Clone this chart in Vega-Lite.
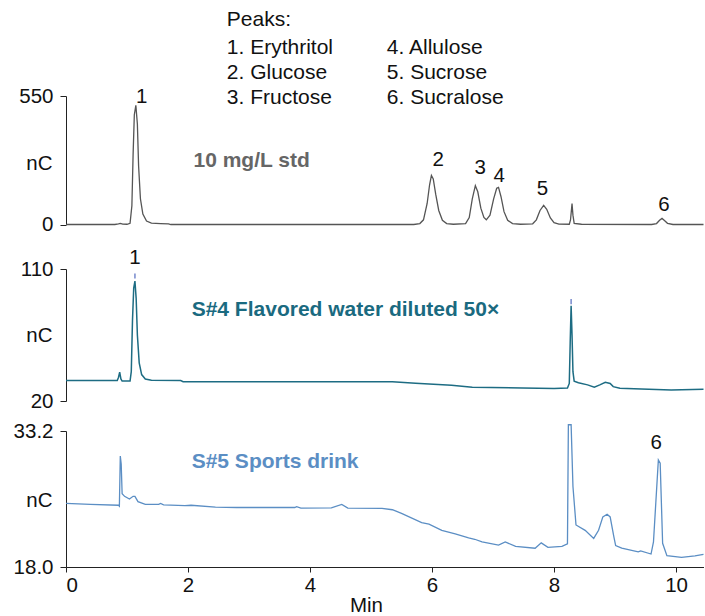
{
  "$schema": "https://vega.github.io/schema/vega-lite/v6.json",
  "padding": {"left": 13, "top": 9, "right": 0, "bottom": 0},
  "autosize": {"type": "pad"},
  "config": {
    "view": {"stroke": null},
    "font": "Liberation Sans",
    "axis": {
      "grid": false,
      "domainColor": "#222",
      "tickColor": "#222",
      "tickSize": 6,
      "labelPadding": 7,
      "labelFontSize": 20.5,
      "labelColor": "#111",
      "titleFontSize": 20.5,
      "titleFontWeight": "normal",
      "titleColor": "#111"
    }
  },
  "datasets": {
    "std": [
      {"t": 0, "v": 0}, {"t": 0.8, "v": 0}, {"t": 0.86, "v": 3}, {"t": 0.89, "v": 5}, {"t": 0.93, "v": 2},
      {"t": 1.0, "v": 1}, {"t": 1.05, "v": 5}, {"t": 1.08, "v": 80}, {"t": 1.1, "v": 300}, {"t": 1.12, "v": 470},
      {"t": 1.145, "v": 510}, {"t": 1.17, "v": 430}, {"t": 1.19, "v": 250}, {"t": 1.22, "v": 110}, {"t": 1.26, "v": 45},
      {"t": 1.32, "v": 15}, {"t": 1.4, "v": 6}, {"t": 1.55, "v": 4}, {"t": 1.68, "v": 3}, {"t": 1.72, "v": 0},
      {"t": 5.7, "v": 0}, {"t": 5.8, "v": 4}, {"t": 5.86, "v": 20}, {"t": 5.92, "v": 90}, {"t": 5.96, "v": 170},
      {"t": 5.99, "v": 210}, {"t": 6.02, "v": 195}, {"t": 6.06, "v": 130}, {"t": 6.11, "v": 60}, {"t": 6.17, "v": 18},
      {"t": 6.24, "v": 4}, {"t": 6.35, "v": 1}, {"t": 6.55, "v": 4}, {"t": 6.61, "v": 30}, {"t": 6.66, "v": 110},
      {"t": 6.71, "v": 166}, {"t": 6.75, "v": 140}, {"t": 6.8, "v": 70}, {"t": 6.85, "v": 30}, {"t": 6.89, "v": 20},
      {"t": 6.95, "v": 40}, {"t": 7.01, "v": 110}, {"t": 7.06, "v": 155}, {"t": 7.09, "v": 159}, {"t": 7.13, "v": 120},
      {"t": 7.18, "v": 55}, {"t": 7.24, "v": 18}, {"t": 7.32, "v": 4}, {"t": 7.45, "v": 1}, {"t": 7.65, "v": 3},
      {"t": 7.71, "v": 20}, {"t": 7.77, "v": 60}, {"t": 7.83, "v": 82}, {"t": 7.88, "v": 65}, {"t": 7.94, "v": 28},
      {"t": 8.0, "v": 8}, {"t": 8.08, "v": 2}, {"t": 8.25, "v": 1}, {"t": 8.27, "v": 20}, {"t": 8.295, "v": 90},
      {"t": 8.31, "v": 40}, {"t": 8.33, "v": 5}, {"t": 8.45, "v": 1}, {"t": 9.6, "v": 0}, {"t": 9.68, "v": 4},
      {"t": 9.73, "v": 18}, {"t": 9.77, "v": 26}, {"t": 9.81, "v": 17}, {"t": 9.86, "v": 5}, {"t": 9.95, "v": 0},
      {"t": 10.45, "v": 0}
    ],
    "s4": [
      {"t": 0, "v": 33.9}, {"t": 0.84, "v": 33.9}, {"t": 0.86, "v": 36}, {"t": 0.88, "v": 39.6}, {"t": 0.9, "v": 35},
      {"t": 0.92, "v": 33.6}, {"t": 1.05, "v": 33.6}, {"t": 1.07, "v": 40}, {"t": 1.09, "v": 75}, {"t": 1.11, "v": 97},
      {"t": 1.13, "v": 101.7}, {"t": 1.15, "v": 90}, {"t": 1.17, "v": 65}, {"t": 1.2, "v": 46}, {"t": 1.24, "v": 38},
      {"t": 1.3, "v": 35}, {"t": 1.4, "v": 34.2}, {"t": 1.88, "v": 34.0}, {"t": 1.92, "v": 33.2}, {"t": 5.35, "v": 33.2},
      {"t": 5.73, "v": 32.1}, {"t": 6.32, "v": 30.7}, {"t": 6.66, "v": 29.4}, {"t": 7.48, "v": 28.9}, {"t": 8.0, "v": 28.6},
      {"t": 8.22, "v": 28.8}, {"t": 8.25, "v": 32}, {"t": 8.265, "v": 60}, {"t": 8.28, "v": 85}, {"t": 8.295, "v": 65},
      {"t": 8.31, "v": 40}, {"t": 8.33, "v": 33.5}, {"t": 8.4, "v": 32.5}, {"t": 8.55, "v": 31}, {"t": 8.66, "v": 29.4},
      {"t": 8.75, "v": 31}, {"t": 8.84, "v": 32.8}, {"t": 8.92, "v": 32}, {"t": 8.97, "v": 29.8}, {"t": 9.08, "v": 28.7},
      {"t": 9.43, "v": 28.2}, {"t": 9.92, "v": 27.5}, {"t": 10.45, "v": 28.0}
    ],
    "s5": [
      {"t": 0, "v": 25.1}, {"t": 0.4, "v": 25.0}, {"t": 0.86, "v": 24.9}, {"t": 0.875, "v": 24.8}, {"t": 0.89, "v": 30.4},
      {"t": 0.905, "v": 29.5}, {"t": 0.92, "v": 26.2}, {"t": 0.96, "v": 25.9}, {"t": 1.04, "v": 25.6}, {"t": 1.1, "v": 25.9},
      {"t": 1.13, "v": 25.9}, {"t": 1.18, "v": 25.3}, {"t": 1.3, "v": 25.0}, {"t": 1.52, "v": 25.0}, {"t": 1.55, "v": 25.1},
      {"t": 1.6, "v": 24.95}, {"t": 1.95, "v": 24.85}, {"t": 2.05, "v": 24.9}, {"t": 2.45, "v": 24.7}, {"t": 2.8, "v": 24.65},
      {"t": 3.75, "v": 24.65}, {"t": 3.78, "v": 24.75}, {"t": 3.85, "v": 24.58}, {"t": 4.35, "v": 24.6}, {"t": 4.52, "v": 25.0},
      {"t": 4.62, "v": 24.58}, {"t": 5.18, "v": 24.55}, {"t": 5.35, "v": 24.4}, {"t": 5.5, "v": 24.0}, {"t": 5.83, "v": 22.95},
      {"t": 5.95, "v": 22.8}, {"t": 6.16, "v": 22.1}, {"t": 6.38, "v": 21.7}, {"t": 6.6, "v": 21.25}, {"t": 6.7, "v": 21.1},
      {"t": 6.82, "v": 20.8}, {"t": 7.09, "v": 20.45}, {"t": 7.2, "v": 20.8}, {"t": 7.37, "v": 20.3}, {"t": 7.69, "v": 20.1},
      {"t": 7.79, "v": 20.7}, {"t": 7.9, "v": 20.2}, {"t": 8.13, "v": 20.3}, {"t": 8.22, "v": 20.6}, {"t": 8.235, "v": 33.9},
      {"t": 8.28, "v": 33.9}, {"t": 8.31, "v": 27}, {"t": 8.36, "v": 22.7}, {"t": 8.51, "v": 22.1}, {"t": 8.65, "v": 21.2},
      {"t": 8.73, "v": 22.1}, {"t": 8.8, "v": 23.6}, {"t": 8.87, "v": 23.9}, {"t": 8.92, "v": 23.6}, {"t": 8.98, "v": 21.4},
      {"t": 9.01, "v": 20.4}, {"t": 9.11, "v": 20.1}, {"t": 9.38, "v": 19.7}, {"t": 9.42, "v": 19.8}, {"t": 9.59, "v": 19.45},
      {"t": 9.63, "v": 20.8}, {"t": 9.71, "v": 29.96}, {"t": 9.74, "v": 29.6}, {"t": 9.78, "v": 20.65}, {"t": 9.85, "v": 19.27},
      {"t": 10.09, "v": 19.08}, {"t": 10.31, "v": 19.25}, {"t": 10.45, "v": 19.4}
    ]
  },
  "bounds": "flush",
  "spacing": 44,
  "vconcat": [
    {
      "width": 637.5,
      "height": 128.5,
      "layer": [
        {
          "data": {"name": "std"},
          "mark": {"type": "line", "color": "#555555", "strokeWidth": 1.3, "clip": false},
          "encoding": {
            "x": {"field": "t", "type": "quantitative", "scale": {"domain": [0, 10.45], "nice": false, "zero": false}, "axis": null},
            "y": {"field": "v", "type": "quantitative", "scale": {"domain": [0, 550], "nice": false},
              "axis": {"values": [0, 550], "title": "nC", "titleAngle": 0, "titleAlign": "right", "titleBaseline": "middle", "titleX": -14, "titleY": 67}}
          }
        },
        {
          "data": {"values": [
            {"t": 1.24, "v": 546, "s": "1"}, {"t": 6.1, "v": 277, "s": "2"}, {"t": 6.79, "v": 243, "s": "3"},
            {"t": 7.1, "v": 206, "s": "4"}, {"t": 7.81, "v": 153, "s": "5"}, {"t": 9.8, "v": 85, "s": "6"}
          ]},
          "mark": {"type": "text", "fontSize": 20.5, "color": "#111", "baseline": "middle", "align": "center"},
          "encoding": {
            "x": {"field": "t", "type": "quantitative"},
            "y": {"field": "v", "type": "quantitative"},
            "text": {"field": "s"}
          }
        },
        {
          "data": {"values": [
            {"t": 2.636, "v": 874, "s": "Peaks:"},
            {"t": 2.636, "v": 757, "s": "1. Erythritol"},
            {"t": 2.636, "v": 649, "s": "2. Glucose"},
            {"t": 2.636, "v": 540, "s": "3. Fructose"},
            {"t": 5.259, "v": 757, "s": "4. Allulose"},
            {"t": 5.259, "v": 649, "s": "5. Sucrose"},
            {"t": 5.259, "v": 540, "s": "6. Sucralose"}
          ]},
          "mark": {"type": "text", "fontSize": 21, "color": "#111", "baseline": "middle", "align": "left"},
          "encoding": {
            "x": {"field": "t", "type": "quantitative"},
            "y": {"field": "v", "type": "quantitative"},
            "text": {"field": "s"}
          }
        },
        {
          "data": {"values": [{"t": 2.09, "v": 271, "s": "10 mg/L std"}]},
          "mark": {"type": "text", "fontSize": 21, "fontWeight": "bold", "color": "#666666", "baseline": "middle", "align": "left"},
          "encoding": {
            "x": {"field": "t", "type": "quantitative"},
            "y": {"field": "v", "type": "quantitative"},
            "text": {"field": "s"}
          }
        }
      ]
    },
    {
      "bounds": "flush",
      "spacing": 30,
      "vconcat": [
        {
          "width": 637.5,
          "height": 132,
          "layer": [
            {
              "data": {"name": "s4"},
              "mark": {"type": "line", "color": "#1d6c83", "strokeWidth": 1.5, "clip": false},
              "encoding": {
                "x": {"field": "t", "type": "quantitative", "scale": {"domain": [0, 10.45], "nice": false, "zero": false}, "axis": null},
                "y": {"field": "v", "type": "quantitative", "scale": {"domain": [20, 110], "nice": false, "zero": false},
                  "axis": {"values": [20, 110], "title": "nC", "titleAngle": 0, "titleAlign": "right", "titleBaseline": "middle", "titleX": -14, "titleY": 66}}
              }
            },
            {
              "data": {"values": [{"t": 1.13, "v": 103.5, "v2": 107}, {"t": 8.28, "v": 86, "v2": 89.5}]},
              "mark": {"type": "rule", "color": "#7588cc", "strokeWidth": 1.5},
              "encoding": {
                "x": {"field": "t", "type": "quantitative"},
                "y": {"field": "v", "type": "quantitative"},
                "y2": {"field": "v2"}
              }
            },
            {
              "data": {"values": [{"t": 1.13, "v": 117.7, "s": "1"}]},
              "mark": {"type": "text", "fontSize": 20.5, "color": "#111", "baseline": "middle", "align": "center"},
              "encoding": {
                "x": {"field": "t", "type": "quantitative"},
                "y": {"field": "v", "type": "quantitative"},
                "text": {"field": "s"}
              }
            },
            {
              "data": {"values": [{"t": 2.06, "v": 81.9, "s": "S#4 Flavored water diluted 50×"}]},
              "mark": {"type": "text", "fontSize": 21, "fontWeight": "bold", "color": "#1a6a80", "baseline": "middle", "align": "left"},
              "encoding": {
                "x": {"field": "t", "type": "quantitative"},
                "y": {"field": "v", "type": "quantitative"},
                "text": {"field": "s"}
              }
            }
          ]
        },
        {
          "width": 637.5,
          "height": 136,
          "layer": [
            {
              "data": {"name": "s5"},
              "mark": {"type": "line", "color": "#5b8ec4", "strokeWidth": 1.3, "clip": false},
              "encoding": {
                "x": {"field": "t", "type": "quantitative", "scale": {"domain": [0, 10.45], "nice": false, "zero": false},
                  "axis": {"values": [0, 2, 4, 6, 8, 10], "format": "d", "tickSize": 5, "labelPadding": 3, "title": "Min", "titleX": 300, "titleY": 38, "titleBaseline": "middle", "titleAnchor": null}},
                "y": {"field": "v", "type": "quantitative", "scale": {"domain": [18, 33.2], "nice": false, "zero": false},
                  "axis": {"values": [18, 33.2], "format": ".1f", "title": "nC", "titleAngle": 0, "titleAlign": "right", "titleBaseline": "middle", "titleX": -14, "titleY": 69}}
              }
            },
            {
              "data": {"values": [{"t": 9.675, "v": 31.83, "s": "6"}]},
              "mark": {"type": "text", "fontSize": 20.5, "color": "#111", "baseline": "middle", "align": "center"},
              "encoding": {
                "x": {"field": "t", "type": "quantitative"},
                "y": {"field": "v", "type": "quantitative"},
                "text": {"field": "s"}
              }
            },
            {
              "data": {"values": [{"t": 2.06, "v": 29.7, "s": "S#5 Sports drink"}]},
              "mark": {"type": "text", "fontSize": 21, "fontWeight": "bold", "color": "#5b8ec4", "baseline": "middle", "align": "left"},
              "encoding": {
                "x": {"field": "t", "type": "quantitative"},
                "y": {"field": "v", "type": "quantitative"},
                "text": {"field": "s"}
              }
            }
          ]
        }
      ]
    }
  ]
}
